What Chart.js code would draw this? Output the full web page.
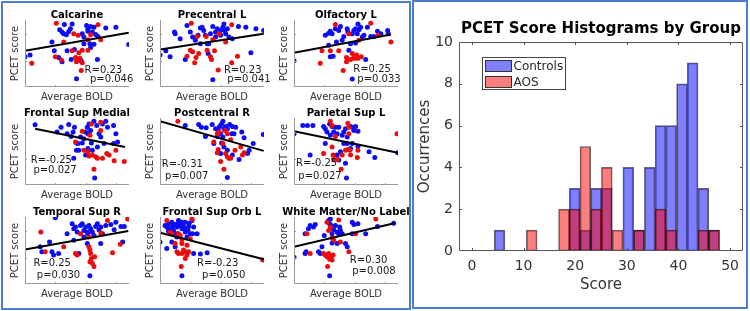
<!DOCTYPE html>
<html>
<head>
<meta charset="utf-8">
<script src="https://cdn.jsdelivr.net/npm/chart.js@4.4.1/dist/chart.umd.min.js"></script>
<style>
  body { margin: 0; background: #fff; }
  #wrap { position: relative; width: 750px; height: 311px; overflow: hidden; }
  canvas { position: absolute; }
  .panel { position: absolute; border: 2px solid #4f7bd0; box-sizing: border-box; }
</style>
</head>
<body>
<div id="wrap">
  <div class="panel" style="left:1px;top:1px;width:410px;height:309px"></div>
  <div class="panel" style="left:412px;top:0px;width:336px;height:309px"></div>
  <canvas id="hist" width="335" height="311" style="left:413px;top:0px"></canvas>
</div>
<script>
// ---- histogram: PCET score by group ----
const binCenters = [5.35, 7.43, 9.51, 11.58, 13.66, 15.74, 17.82, 19.9, 21.97, 24.05, 26.13,
                    28.21, 30.29, 32.36, 34.44, 36.52, 38.6, 40.68, 42.75, 44.83, 46.91];
const controlsCounts = [1, 0, 0, 0, 0, 0, 0, 3, 1, 3, 3, 0, 4, 1, 4, 6, 6, 8, 9, 3, 1];
const aosCounts      = [0, 0, 0, 1, 0, 0, 2, 2, 5, 2, 4, 1, 0, 1, 0, 2, 1, 0, 0, 1, 1];

// ---- scatter panels (x: average BOLD, y: PCET score) ----
const calcCtrlX = [0,5,26.7,29,39,46.7,34.3,36.7,38.3,43.3,41,45,56.7,58.3,61,62.3,65,68.3,66.7,70,72.3,80,90,102.7,41.7,49,65,58.3,64.3,68.3,33.3,36.7,45.7,55.7,71.7,51,62.3];
const calcCtrlY = [23,24.3,34.3,27.5,47.5,48,43.5,41.8,40.5,42.3,39.8,44.3,40.5,38,46.8,44.3,46,45.5,41.8,40,38.5,45,45.5,32.3,27.5,28.5,30,33,33,32.5,22.5,19.3,21,20,21,6.3,42.5];
const calcAosX = [31,72.3,52.7,38.3,65,62.3,46.7,56.7,62.3,53.3,30,36,50,51.7,54.3,51,56.7,6.7,55.7,75,48.3];
const calcAosY = [48.5,47.3,39.3,34.3,39.8,36,27.5,28,28,26,23,20.5,22.5,21,21.8,19.3,18.5,18,12.5,36,40.5];
const calcFitX = [0, 102.7];
const calcFitY = [27.5, 41.3];

const precCtrlX = [0,5.7,10,14.3,15,20,25,26.7,30,32.3,35,37.7,40,41.7,43.3,45,46.7,47.7,50,52.3,55,55,56.7,60,60,62.3,63.3,64.3,65,66.7,68.3,71.7,77.7,85,90,95,102.7,52.3,48.3,40];
const precCtrlY = [24.3,27.5,23,41.8,40.5,36.8,21,46.8,41.8,38,35.5,39.3,45,45.5,43,39.3,33,25.5,40.5,46,41.8,38,44.3,43,39.3,45.5,48,43,40.5,44.3,38,36.8,46,45.5,26,44.3,43,5.5,33,33];
const precAosX = [31,36.7,30,26.7,32.3,34.3,35.7,38.3,46.7,50,51,54,57.7,71,76.7,71,58.3,65,52.3,45.7];
const precAosY = [48.5,38.5,28,23.5,26.8,18.5,22.5,25.5,28,23,21,27.5,13,18.5,23.5,47.3,40.5,34.3,36,38.5];
const precFitX = [0, 102.7];
const precFitY = [28.5, 40.5];

const olfCtrlX = [0,31,34.3,36,37.7,34.3,36,41,44.3,46,47.7,49.3,52.7,53.3,56,57.7,59.3,61,62.7,63.3,64.3,66,67.7,69.3,72.7,76,79.3,82.7,86,92.7,93.3,42,54.3,61,71,57.7,38.7];
const olfCtrlY = [20,39.3,41,42.5,40.5,31.8,23,44.3,43,46,35.5,38.5,44.3,41.8,33,40.5,43,44.3,40.5,48,43.5,45.5,38,39.3,45.5,38.5,38.5,42.5,40.5,43,40.5,34.3,28,33.5,21,6,23.5];
const olfAosX = [41,27.7,36,44.3,26,48.7,52,52,54.3,57.7,58.7,60,61,62,63.3,56,66.7,76,83.3,96,64.3];
const olfAosY = [47.5,27.5,27.5,27.5,18,12.5,22.5,19.3,40.5,25.5,21.8,23,21.8,24.3,21.8,21,23,48.5,39.3,34.3,35.5];
const olfFitX = [0, 96];
const olfFitY = [26, 40];

const fsmCtrlX = [10,31.7,35.7,41.7,43.3,45.7,47.7,49,51,52.3,53.3,55,56.7,58.3,60,61.7,62.3,63.3,65,65.7,66.7,68.3,71,73.3,75,76.7,80,81.7,87.7,90,91.7,62.3,48.3,51,60,71.7,78.3,87.7,69];
const fsmCtrlY = [45.8,40.3,44,39,46,37,40.3,44,32,31.5,26.5,36.5,32,35.3,40.3,44,39,46.5,41.5,32,26.5,48.5,45.3,39,36.5,46.5,48.5,44,45.3,39,32.8,27.8,20.3,26.5,22.8,29,31.5,31.5,5.3];
const fsmAosX = [56.7,64.3,65.7,75,58.3,62.3,63.3,66.7,70,71.7,76.7,81,83.3,88.3,90,98.3,68.3,75,50];
const fsmAosY = [41,37.8,46.5,47.8,26.5,25.3,22,22.8,21.5,20.3,20.3,24,22.8,18.5,26.5,17.8,12,41.5,32.8];
const fsmFitX = [10, 99];
const fsmFitY = [42.8, 29];

const pcrCtrlX = [25,38.3,41,45.7,45,51.7,55,57.7,59,60,61,62.3,63.3,65,66.7,69,71.7,73.3,75,71,81,83.3,88.3,92.3,102.3,53.3,61,63.3,66.7,71.7,78.3,86.7,60,66.7,56.7,62.3];
const pcrCtrlY = [45.3,46,44,43.5,37,46,42.8,41.5,44.5,39,46.5,48.5,42.8,44.5,42.8,46,44.5,39,44,39,40.3,36,26.5,31.5,38.5,31.5,32,29,26.5,22.8,19.5,24,24,5.8,37,36.5];
const pcrAosX = [17.7,56.7,58.3,64.3,66.7,62.3,56.7,57.7,65,66.7,68.3,70,74.3,80,81.7,83.3,63.3,60,53.3,70];
const pcrAosY = [48.5,39,40.3,41.5,39,31.5,24.5,27,24,21.5,20.3,20.3,26.5,29,22.8,24.5,12,17.8,32.8,34.5];
const pcrFitX = [0, 102.7];
const pcrFitY = [48.5, 26];

const pslCtrlX = [0,8.7,13.3,18.7,16,29.3,31,32.7,35.3,37.7,39.3,41,42.7,44.3,47.7,49.3,51,52.7,56,57.7,59.3,61,63.3,31,36,49.3,52.7,56,46,44.3,51,57.7,63.3,74.3,80,102.7,52,42.7];
const pslCtrlY = [39,45.3,45.3,45.3,22.8,44.5,42.8,40.3,46.5,44.5,40.3,44,39,44,37.8,40.3,42.8,36.5,44.5,44,41.5,44.5,41,31.5,37.8,31.5,31.5,27.8,25.3,19,16.5,31.5,29.5,25.3,21,24.5,5.3,22.8];
const pslAosX = [36,37.7,53.3,54.3,29.3,37.7,38.7,39.3,42.7,46.7,47.7,51,53.3,55.3,56,63.3,62.7,54.3,41,102];
const pslAosY = [48.5,45.3,47,44,24,29,22.8,19.5,19.5,12,22.8,26.5,27,26.5,22.8,26.5,21,39,37,39];
const pslFitX = [0, 103];
const pslFitY = [41, 24.5];

const tsrCtrlX = [24.3,15,16.7,26.7,28.3,30,33.3,46.7,48.3,50,51.7,55,56.7,58.3,60,61.7,62.3,63.3,65,66.7,68.3,70,71.7,73.3,75,76.7,80,85,88.3,90,95,98.3,96.7,53.3,61.7,58.3,64.3,41.7,48.3,75];
const tsrCtrlY = [32,28.3,24.5,24.5,22,50.5,23.3,45.8,42,43.3,39.5,44.5,45.8,40.8,43.3,39.5,38.3,44.5,42,39.5,37,43.8,45.8,41.3,43.3,38.3,44.5,45.3,41.3,47,43.8,43.8,32,23.3,30.8,35.8,6.3,38.3,33.3,30.8];
const tsrAosX = [15.7,20,38.3,50,51.7,55,63.3,64.3,65,65.7,64.3,66.7,68.3,69,75,81.7,86.7,94.3,101.7,63.3];
const tsrAosY = [39.5,24.5,28.3,23.3,22,38.3,35.8,25.8,23.3,19.5,17,15.8,13.3,20.8,38.8,48.3,23.8,30.3,49.5,28.3];
const tsrFitX = [0, 102.3];
const tsrFitY = [26.3, 40.3];

const fsoCtrlX = [0,6.7,5,8.3,10,11.7,13.3,15,16.7,17.7,18.3,20,21.7,23.3,25,25,26.7,28.3,30,31.7,32.3,36.7,11.7,15,33.3,40,46.7,21.7,16.7,6.7,12.3,17.7,21.7,24.3,27.7,29,14.3,8.3,33.3];
const fsoCtrlY = [32,27,44.5,45.8,42,47,40.8,45.3,43.3,38.3,48.3,44.5,42,45.8,39.5,47,35.8,43.8,38.3,48.3,38.3,38.3,32,28.3,23.3,22.8,23.8,6.3,35.8,43.3,43.8,46.5,47,42.8,40.8,46.3,38.8,40.3,43.3];
const fsoAosX = [6.7,10,11.7,15,18.3,20,21.7,16.7,18.3,21.7,25,26.7,25,23.3,28.3,31.7,21,101.7,30,21.7,26.7];
const fsoAosY = [48.3,39.5,38.3,30.8,38.3,37,30.8,24.5,23.3,23.3,24.5,22,19.5,25.8,24.5,49.5,13.3,18.3,34.5,33.8,29.5];
const fsoFitX = [0, 102.7];
const fsoFitY = [39, 18.8];

const wmCtrlX = [0,11,14.3,16,19.3,21,11,12,24.3,26,27.7,30,34.3,35.3,36,37,37.7,37.7,39.3,41,42.7,44.3,45.3,46,47.7,57.7,59.3,63.3,71,82.7,98.7,35.3,57.7,51,42.7,52.7];
const wmCtrlY = [20.3,38.3,42,44.5,43.3,45.3,23.3,24.5,24.5,23.3,28.3,37,48.3,45.8,49.5,44.5,38.3,31.3,41.3,44.5,39.5,38.3,43.3,40.8,38.3,47,45.3,45.8,38.3,43.8,46.3,6.3,38.3,30.8,30.8,28.3];
const wmAosX = [12.7,16,32.7,34.3,36,37.7,39.3,29.3,31,32.7,34.3,35.3,36.7,38.7,37.7,33.3,54.3,44.3,46,81,61];
const wmAosY = [38.3,23.3,47,40.8,43.3,35.3,33.3,23.3,22,20.8,23.3,18.8,20.8,22,18.3,13.3,24.5,48.8,32,49.5,38.3];
const wmFitX = [0, 99.3];
const wmFitY = [28.3, 46.3];

Chart.defaults.font.family = '"DejaVu Sans", sans-serif';
Chart.defaults.color = '#262626';
Chart.defaults.animation = false;

const BLUE = 'rgb(12,12,245)';
const RED = 'rgb(235,12,12)';

// inward tick marks + axis lines, MATLAB style
const inTicks = {
  id: 'inTicks',
  afterDraw(chart, args, o) {
    const { ctx, chartArea: a, scales } = chart;
    ctx.save();
    ctx.strokeStyle = o.color;
    ctx.lineWidth = 1;
    ctx.beginPath();
    if (o.box) {
      ctx.rect(a.left + 0.5, a.top + 0.5, a.right - a.left - 1, a.bottom - a.top - 1);
    } else {
      ctx.moveTo(a.left + 0.5, a.top);
      ctx.lineTo(a.left + 0.5, a.bottom - 0.5);
      ctx.lineTo(a.right, a.bottom - 0.5);
    }
    scales.x.ticks.forEach((t, i) => {
      const px = Math.round(scales.x.getPixelForTick(i)) + 0.5;
      if (px < a.left + 2 || px > a.right - 2) return;
      ctx.moveTo(px, a.bottom);
      ctx.lineTo(px, a.bottom - o.len);
      if (o.box) { ctx.moveTo(px, a.top); ctx.lineTo(px, a.top + o.len); }
    });
    scales.y.ticks.forEach((t, i) => {
      const py = Math.round(scales.y.getPixelForTick(i)) + 0.5;
      if (py < a.top + 2 || py > a.bottom - 2) return;
      ctx.moveTo(a.left, py);
      ctx.lineTo(a.left + o.len, py);
      if (o.box) { ctx.moveTo(a.right, py); ctx.lineTo(a.right - o.len, py); }
    });
    ctx.stroke();
    ctx.restore();
  }
};

// R / p annotation in data coordinates
const statText = {
  id: 'statText',
  afterDatasetsDraw(chart, args, o) {
    const { ctx, scales } = chart;
    ctx.save();
    ctx.font = '10px "DejaVu Sans"';
    ctx.fillStyle = '#1a1a1a';
    ctx.textBaseline = 'middle';
    o.lines.forEach((txt, i) => {
      const [x, y] = o.pos[i];
      ctx.fillText(txt, scales.x.getPixelForValue(x), scales.y.getPixelForValue(y));
    });
    ctx.restore();
  }
};

// legend box inside the axes (northwest)
const boxLegend = {
  id: 'boxLegend',
  afterDraw(chart, args, o) {
    const { ctx, chartArea: a } = chart;
    const x = Math.round(a.left + o.x) + 0.5, y = Math.round(a.top + o.y) + 0.5;
    ctx.save();
    ctx.fillStyle = '#fff';
    ctx.fillRect(x, y, o.w, o.h);
    ctx.strokeStyle = '#444';
    ctx.lineWidth = 1;
    ctx.strokeRect(x, y, o.w, o.h);
    ctx.font = '12px "DejaVu Sans"';
    ctx.textBaseline = 'middle';
    chart.data.datasets.forEach((ds, i) => {
      const ry = y + 3 + i * 16;
      ctx.fillStyle = ds.backgroundColor;
      ctx.fillRect(x + 3, ry, 26, 11);
      ctx.strokeStyle = '#333';
      ctx.strokeRect(x + 3, ry, 26, 11);
      ctx.fillStyle = '#262626';
      ctx.fillText(ds.label, x + 31, ry + 6);
    });
    ctx.restore();
  }
};

function pts(xs, ys) {
  return xs.map((x, i) => ({ x, y: ys[i] }));
}

const panels = [
  { title: 'Calcarine', cx: calcCtrlX, cy: calcCtrlY, ax: calcAosX, ay: calcAosY, fx: calcFitX, fy: calcFitY,
    stats: ['R=0.23', 'p=0.046'], pos: [[59, 13], [64.3, 6]] },
  { title: 'Precentral L', cx: precCtrlX, cy: precCtrlY, ax: precAosX, ay: precAosY, fx: precFitX, fy: precFitY,
    stats: ['R=0.23', 'p=0.041'], pos: [[63.3, 12.5], [66.7, 5.5]] },
  { title: 'Olfactory L', cx: olfCtrlX, cy: olfCtrlY, ax: olfAosX, ay: olfAosY, fx: olfFitX, fy: olfFitY,
    stats: ['R=0.25', 'p=0.033'], pos: [[58.7, 13.5], [62.7, 5.5]] },
  { title: 'Frontal Sup Medial', cx: fsmCtrlX, cy: fsmCtrlY, ax: fsmAosX, ay: fsmAosY, fx: fsmFitX, fy: fsmFitY,
    stats: ['R=-0.25', 'p=0.027'], pos: [[5.7, 19], [8.3, 11]] },
  { title: 'Postcentral R', cx: pcrCtrlX, cy: pcrCtrlY, ax: pcrAosX, ay: pcrAosY, fx: pcrFitX, fy: pcrFitY,
    stats: ['R=-0.31', 'p=0.007'], pos: [[1.7, 15.3], [5, 6.5]] },
  { title: 'Parietal Sup L', cx: pslCtrlX, cy: pslCtrlY, ax: pslAosX, ay: pslAosY, fx: pslFitX, fy: pslFitY,
    stats: ['R=-0.25', 'p=0.027'], pos: [[2, 16.5], [4.3, 6.5]] },
  { title: 'Temporal Sup R', cx: tsrCtrlX, cy: tsrCtrlY, ax: tsrAosX, ay: tsrAosY, fx: tsrFitX, fy: tsrFitY,
    stats: ['R=0.25', 'p=0.030'], pos: [[8.3, 15.8], [11.7, 6.3]] },
  { title: 'Frontal Sup Orb L', cx: fsoCtrlX, cy: fsoCtrlY, ax: fsoAosX, ay: fsoAosY, fx: fsoFitX, fy: fsoFitY,
    stats: ['R=-0.23', 'p=0.050'], pos: [[36.7, 15.3], [41.7, 6.3]] },
  { title: 'White Matter/No Label', cx: wmCtrlX, cy: wmCtrlY, ax: wmAosX, ay: wmAosY, fx: wmFitX, fy: wmFitY,
    stats: ['R=0.30', 'p=0.008'], pos: [[55.3, 17.8], [57.7, 9.5]] },
];

const colLeft = [0, 135, 269];
const rowTop = [0, 98, 197];
const wrap = document.getElementById('wrap');

panels.forEach((p, i) => {
  const cv = document.createElement('canvas');
  cv.width = 154;
  cv.height = 106;
  cv.style.left = colLeft[i % 3] + 'px';
  cv.style.top = rowTop[Math.floor(i / 3)] + 'px';
  wrap.appendChild(cv);

  new Chart(cv, {
    type: 'scatter',
    data: {
      datasets: [
        { type: 'line', data: pts(p.fx, p.fy), borderColor: '#000', borderWidth: 2, pointRadius: 0 },
        { data: pts(p.ax, p.ay), backgroundColor: RED, borderWidth: 0, pointRadius: 2.5 },
        { data: pts(p.cx, p.cy), backgroundColor: BLUE, borderWidth: 0, pointRadius: 2.5 },
      ],
    },
    options: {
      responsive: false,
      devicePixelRatio: 1,
      events: [],
      scales: {
        x: {
          type: 'linear', min: 0, max: 103,
          grid: { display: false, drawTicks: false }, border: { display: false },
          ticks: { display: false, stepSize: 30, includeBounds: false },
          title: { display: true, text: 'Average BOLD', font: { size: 10 }, color: '#333', padding: { top: 0, bottom: 3 } },
          afterFit: (s) => { s.height = 19; },
        },
        y: {
          min: 0, max: 51,
          grid: { display: false, drawTicks: false }, border: { display: false },
          ticks: { display: false, stepSize: 20, includeBounds: false },
          title: { display: true, text: 'PCET score', font: { size: 10 }, color: '#333', padding: { top: 9, bottom: 0 } },
          afterFit: (s) => { s.width = 25; },
        },
        // empty right gutter so the title stays centred over the plot area
        gutter: {
          position: 'right', display: true,
          grid: { display: false, drawTicks: false }, border: { display: false },
          ticks: { display: false },
          afterFit: (s) => { s.width = 25; },
        },
      },
      plugins: {
        legend: { display: false },
        tooltip: { enabled: false },
        title: {
          display: true, text: p.title, color: '#000',
          font: { size: 10, weight: 'bold', lineHeight: 1 }, padding: { top: 10, bottom: 0 },
        },
        inTicks: { color: '#9a9a9a', len: 2, box: false },
        statText: { lines: p.stats, pos: p.pos },
      },
    },
    plugins: [inTicks, statText],
  });
});

new Chart(document.getElementById('hist'), {
  type: 'bar',
  data: {
    datasets: [
      {
        label: 'Controls',
        data: pts(binCenters, controlsCounts),
        backgroundColor: 'rgba(0,0,255,0.5)',
        borderColor: 'rgba(0,0,0,0.6)',
        borderWidth: 1,
        borderSkipped: false,
        grouped: false,
        barPercentage: 1,
        categoryPercentage: 1,
        order: 1,
      },
      {
        label: 'AOS',
        data: pts(binCenters, aosCounts),
        backgroundColor: 'rgba(255,0,0,0.5)',
        borderColor: 'rgba(0,0,0,0.6)',
        borderWidth: 1,
        borderSkipped: false,
        grouped: false,
        barPercentage: 1,
        categoryPercentage: 1,
        order: 0,
      },
    ],
  },
  options: {
    responsive: false,
    devicePixelRatio: 1,
    events: [],
    layout: { padding: { right: 5 } },
    scales: {
      x: {
        type: 'linear', min: -2.5, max: 52.5, offset: false,
        grid: { display: false, drawTicks: false }, border: { display: false },
        ticks: { stepSize: 10, includeBounds: false, padding: 7, font: { size: 14 }, color: '#333' },
        title: { display: true, text: 'Score', font: { size: 15 }, color: '#333', padding: { top: 0, bottom: 17 } },
        afterFit: (s) => { s.height = 60; },
      },
      y: {
        min: 0, max: 10,
        grid: { display: false, drawTicks: false }, border: { display: false },
        ticks: { stepSize: 2, includeBounds: false, padding: 6, font: { size: 14 }, color: '#333' },
        title: { display: true, text: 'Occurrences', font: { size: 15 }, color: '#333', padding: { top: 3, bottom: 0 } },
        afterFit: (s) => { s.width = 46; },
      },
    },
    plugins: {
      legend: { display: false },
      tooltip: { enabled: false },
      title: {
        display: true, text: 'PCET Score Histograms by Group', fullSize: false, color: '#000',
        font: { size: 15, weight: 'bold', lineHeight: 1.2 }, padding: { top: 20, bottom: 4 },
      },
      inTicks: { color: '#555', len: 3, box: true },
      boxLegend: { x: 23, y: 15, w: 83, h: 32 },
    },
  },
  plugins: [inTicks, boxLegend],
});
</script>
</body>
</html>
